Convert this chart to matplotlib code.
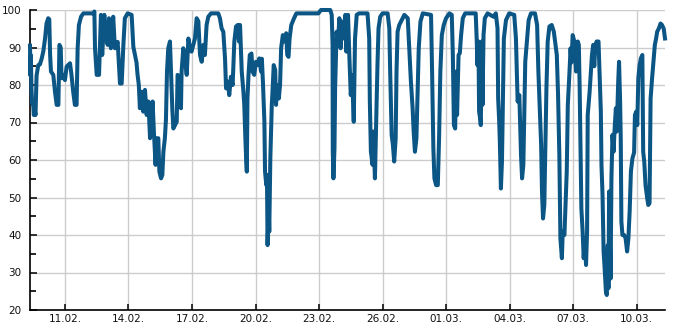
import matplotlib
matplotlib.use('Agg')
import matplotlib.pyplot as plt
import matplotlib.dates as mdates
from matplotlib.ticker import MultipleLocator
import pandas as pd

# days since 09.02.2021 00:00 and the level
days = [
    0.35, 0.37, 0.39, 0.42, 0.45, 0.49, 0.53, 0.57, 0.61, 0.66, 0.74, 0.82, 0.90, 0.98,
    1.06, 1.13, 1.21, 1.26, 1.30, 1.34, 1.45, 1.53, 1.61, 1.69, 1.72, 1.74, 1.80, 1.84,
    1.92, 2.00, 2.08, 2.24, 2.31, 2.39, 2.47, 2.55, 2.60, 2.66, 2.76, 2.87, 3.35, 3.39,
    3.42, 3.50, 3.61, 3.70, 3.76, 3.86, 3.94, 4.02, 4.08, 4.17, 4.28, 4.36, 4.49, 4.60,
    4.68, 4.76, 4.83, 4.96, 5.15, 5.23, 5.31, 5.38, 5.43, 5.49, 5.54, 5.62, 5.70, 5.78,
    5.86, 5.94, 6.02, 6.09, 6.14, 6.20, 6.28, 6.33, 6.41, 6.46, 6.54, 6.60, 6.65, 6.72,
    6.77, 6.82, 6.88, 6.96, 7.01, 7.07, 7.12, 7.20, 7.28, 7.32, 7.40, 7.48, 7.51, 7.59,
    7.67, 7.75, 7.83, 7.90, 7.98, 8.06, 8.14, 8.22, 8.30, 8.38, 8.46, 8.54, 8.61, 8.69,
    8.77, 8.90, 9.24, 9.32, 9.40, 9.48, 9.56, 9.61, 9.69, 9.76, 9.84, 9.92, 10.00, 10.08,
    10.16, 10.22, 10.27, 10.35, 10.43, 10.47, 10.52, 10.56, 10.59, 10.62, 10.67, 10.73, 10.81, 10.86,
    10.94, 11.02, 11.10, 11.18, 11.26, 11.30, 11.35, 11.42, 11.45, 11.51, 11.54, 11.57, 11.62, 11.65,
    11.70, 11.77, 11.81, 11.86, 11.93, 11.97, 12.02, 12.10, 12.16, 12.21, 12.29, 12.37, 12.45, 12.50,
    12.56, 12.61, 12.69, 12.82, 12.93, 13.97, 14.09, 14.53, 14.60, 14.64, 14.65, 14.68, 14.73, 14.76,
    14.83, 14.89, 14.96, 15.02, 15.08, 15.16, 15.24, 15.29, 15.37, 15.43, 15.50, 15.56, 15.64, 15.70,
    15.78, 15.89, 16.29, 16.37, 16.40, 16.45, 16.53, 16.57, 16.64, 16.70, 16.76, 16.81, 16.89, 17.00,
    17.24, 17.32, 17.36, 17.43, 17.49, 17.55, 17.62, 17.66, 17.71, 17.79, 17.87, 18.03, 18.19, 18.26,
    18.34, 18.42, 18.47, 18.53, 18.60, 18.66, 18.71, 18.79, 18.90, 19.29, 19.34, 19.40, 19.45, 19.53,
    19.61, 19.67, 19.73, 19.80, 19.89, 20.00, 20.16, 20.27, 20.32, 20.37, 20.43, 20.48, 20.52, 20.59,
    20.65, 20.71, 20.79, 20.90, 21.40, 21.45, 21.48, 21.53, 21.56, 21.61, 21.64, 21.69, 21.72, 21.77,
    21.83, 21.96, 22.12, 22.24, 22.35, 22.43, 22.46, 22.51, 22.54, 22.59, 22.64, 22.68, 22.73, 22.83,
    22.98, 23.22, 23.30, 23.38, 23.46, 23.54, 23.59, 23.65, 23.70, 23.74, 23.82, 23.90, 24.01, 24.20,
    24.30, 24.36, 24.42, 24.49, 24.53, 24.58, 24.64, 24.69, 24.74, 24.80, 24.88, 24.99, 25.09, 25.15,
    25.23, 25.29, 25.35, 25.40, 25.47, 25.51, 25.59, 25.64, 25.70, 25.75, 25.83, 25.88, 25.92, 25.98,
    26.06, 26.14, 26.22, 26.27, 26.31, 26.34, 26.39, 26.45, 26.50, 26.56, 26.61, 26.66, 26.69, 26.73,
    26.78, 26.84, 26.89, 26.95, 27.00, 27.05, 27.11, 27.20, 27.27, 27.31, 27.34, 27.39, 27.44, 27.48,
    27.55, 27.59, 27.64, 27.67, 27.70, 27.77, 27.81, 27.86, 27.91, 27.97, 28.02, 28.06, 28.13, 28.17,
    28.22, 28.25, 28.28, 28.33, 28.41, 28.48, 28.55, 28.61, 28.67, 28.73, 28.80, 28.88, 28.92, 28.98,
    29.03, 29.08, 29.14, 29.20, 29.27, 29.31, 29.36, 29.42, 29.50, 29.55, 29.61, 29.66, 29.73, 29.81,
    29.86, 29.92, 29.97, 30.05, 30.13, 30.20, 30.28, 30.34,
]
level = [
    90.5, 82.5, 88, 79, 75, 76, 72, 73.5, 72, 82.5, 85.3, 85.5, 87, 89,
    92.4, 96.4, 97.8, 97.5, 88, 83.6, 82.7, 78.2, 74.7, 74.7, 84, 90.7, 90, 81.8,
    82.7, 81.3, 84.9, 85.8, 82.7, 78.2, 74.7, 74.7, 89.8, 96, 98.2, 99.1, 99.1, 99.6,
    89.8, 82.7, 82.7, 98.7, 88, 98.7, 92.4, 90.7, 97.8, 89.8, 98.2, 89.8, 91.5, 80.4,
    80.4, 90.7, 97.8, 99.1, 98.7, 90.2, 88, 86, 82.7, 80, 73.8, 78.2, 72.9, 78.7,
    72, 75.6, 65.8, 72, 75.6, 67.6, 58.7, 65.8, 65.8, 56.9, 55.1, 56, 62.2, 65.8,
    70.7, 83.6, 89.8, 91.6, 83.6, 73.8, 68.4, 69.3, 70.2, 82.7, 82.2, 73.8, 83.6, 89.8,
    87.1, 82.7, 92.4, 90, 88.9, 90.7, 92.4, 97.8, 97, 88, 86.2, 90.7, 88, 96,
    98.2, 99.1, 99.1, 97.8, 95.1, 94.2, 87.1, 79.1, 80.9, 77.3, 82.2, 80, 91.6, 95.6,
    96, 91.6, 96, 83.6, 78.2, 74.7, 66, 60, 56.9, 76.4, 82.7, 88, 88.4, 83.6,
    82.7, 86.2, 85.3, 87.1, 83.6, 87, 80.9, 70.2, 56.9, 53.3, 56, 37.3, 48, 40.9,
    60.4, 74.7, 79.1, 85.3, 84, 74.7, 80, 76.4, 80, 89.8, 93.3, 91.6, 93.8, 88,
    87.5, 92.4, 96, 97.8, 99.1, 99.1, 100, 100, 98.7, 90.7, 62.2, 55.1, 63.1, 79.1,
    94.2, 90.7, 97.8, 89.8, 96.9, 92.4, 98.7, 88.9, 98.7, 88, 77.3, 82.7, 70.2, 92.4,
    98.7, 99.1, 99.1, 92.4, 75.6, 62.2, 58.7, 67.6, 55.1, 70.2, 85.3, 95.1, 98.2, 99.1,
    99.1, 95.1, 83.6, 66.7, 64, 59.6, 65.8, 83.6, 94.2, 96, 96.9, 98.7, 97.8, 89.8,
    80.9, 73.8, 67.6, 62.2, 65.8, 79.1, 89.8, 96.9, 99.1, 98.7, 83.6, 63.1, 55.1, 53.3,
    53.3, 65.8, 83.6, 93.3, 96, 97.8, 99.1, 98.7, 88, 69.3, 68.4, 83.6, 72, 88,
    88.5, 93.3, 97.8, 99.1, 99.1, 91.6, 85.3, 91.6, 72.9, 71.1, 69.3, 91.6, 74.7, 93.3,
    97.8, 99.1, 98.6, 98.2, 99.1, 95.1, 76.4, 70.2, 64.9, 52.4, 59.6, 74.7, 92.4, 97.3,
    99.1, 98.7, 92.4, 75.6, 77.3, 61.3, 55.1, 58.7, 74.7, 86.2, 91.6, 97.3, 99.1, 99.1,
    96, 83.6, 74.7, 64, 51.6, 44.4, 48, 63.1, 79.1, 91.6, 95.6, 96, 94.2, 91.6,
    88, 77.3, 61.3, 39.1, 33.8, 40.9, 40, 48, 56.9, 74.7, 83.6, 89.8, 86, 93.3,
    91.6, 83.6, 91.6, 90.7, 79.1, 67.6, 47.1, 40.9, 33.8, 39.1, 32, 40.9, 72, 74.7,
    78.2, 83.6, 88, 90.7, 85, 90.7, 91.6, 91.6, 80, 72.9, 58.7, 50.7, 35.6, 32,
    24.9, 24, 37.3, 25.8, 51.6, 28.4, 55.1, 66.7, 62.2, 69.3, 73.8, 67.6, 80.9, 86.2,
    75.6, 65.8, 43.6, 40, 40, 39.1, 35.6, 39, 46.2, 56.9, 60.4, 62, 72, 72.9,
    69.3, 81.8, 85.3, 87.1, 88, 62.2, 59.6, 53.3, 49.8, 48, 48.5, 76.4, 81.8, 87.1,
    90.7, 92.4, 94.2, 95.1, 96.4, 96, 95, 92.4,
]

start = pd.Timestamp('2021-02-09')
times = start + pd.to_timedelta(days, unit='D')
tick_dates = pd.date_range('2021-02-11', periods=10, freq='3D')

fig = plt.figure(figsize=(6.85, 3.3), dpi=100)
ax = fig.add_axes([30 / 685, 20 / 330, 635 / 685, 300 / 330])

ax.plot(times, level, color='#0c5686', lw=2.9, clip_on=False, zorder=3)

ax.set_ylim(20, 100)
ax.set_xlim(times[0], times[-1])
ax.yaxis.set_major_locator(MultipleLocator(10))
ax.yaxis.set_minor_locator(MultipleLocator(5))
ax.set_xticks(tick_dates)
ax.xaxis.set_major_formatter(mdates.DateFormatter('%d.%m.'))

ax.grid(True, which='major', color='#cccccc', lw=1)
ax.set_axisbelow(True)
ax.spines['top'].set_visible(False)
ax.spines['right'].set_visible(False)
for s in ('left', 'bottom'):
    ax.spines[s].set_linewidth(1.2)

ax.tick_params(axis='y', which='major', direction='in', length=5, width=1.2, pad=6, labelsize=7.5, colors='#111111')
ax.tick_params(axis='y', which='minor', direction='in', length=4, width=1.2)
ax.tick_params(axis='x', which='major', direction='in', length=4, width=1.2, pad=3, labelsize=7.5, colors='#111111')

fig.savefig('out.png', dpi=100)
